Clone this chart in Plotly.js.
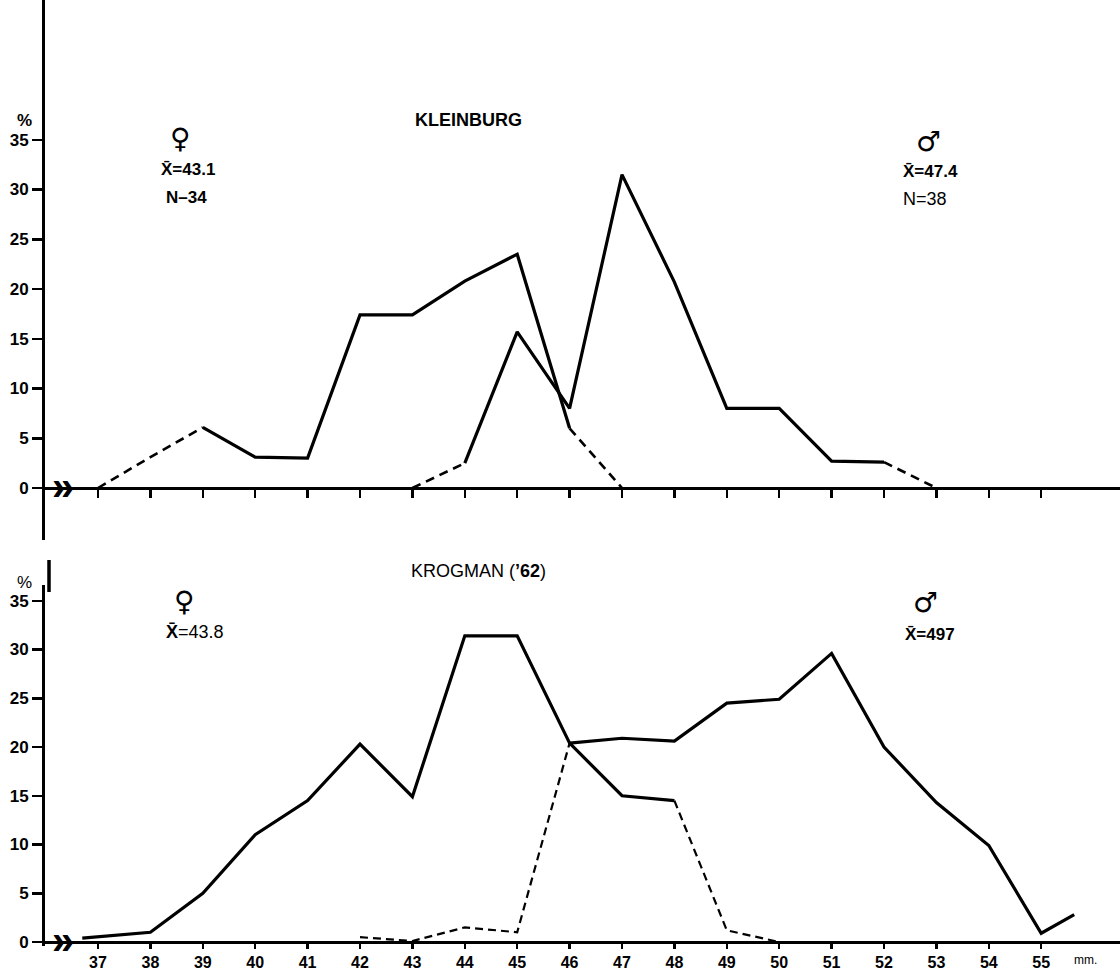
<!DOCTYPE html>
<html><head><meta charset="utf-8">
<script src="https://cdn.plot.ly/plotly-3.0.1.min.js"></script>
<style>html,body{margin:0;padding:0;background:#fff}</style>
</head><body>
<div id="chart" style="width:1120px;height:970px"></div>
<script>
// ---- data ----
const mmTicks = [37,38,39,40,41,42,43,44,45,46,47,48,49,50,51,52,53,54,55];
const pctTicks = [0,5,10,15,20,25,30,35];

// KLEINBURG, females
const kleinFemaleX = [37,38,39,40,41,42,43,44,45,46,47];
const kleinFemaleY = [0,3.1,6.1,3.1,3.0,17.4,17.4,20.8,23.5,6.0,0];
const kleinFemaleDashed = [true,true,false,false,false,false,false,false,false,true];
// KLEINBURG, males
const kleinMaleX = [43,44,45,46,47,48,49,50,51,52,53];
const kleinMaleY = [0,2.5,15.7,8.0,31.5,20.7,8.0,8.0,2.7,2.6,0];
const kleinMaleDashed = [true,false,false,false,false,false,false,false,false,true];
// KROGMAN ('62), females
const krogFemaleX = [36.7,38,39,40,41,42,43,44,45,46,47,48,49,50];
const krogFemaleY = [0.4,1.0,5.0,11.0,14.5,20.3,14.9,31.4,31.4,20.4,15.0,14.5,1.2,0];
const krogFemaleDashed = [false,false,false,false,false,false,false,false,false,false,false,true,true];
// KROGMAN ('62), males
const krogMaleX = [42,43,44,45,46,47,48,49,50,51,52,53,54,55,55.63];
const krogMaleY = [0.5,0.1,1.5,1.0,20.4,20.9,20.6,24.5,24.9,29.6,20.0,14.3,9.9,0.9,2.8];
const krogMaleDashed = [true,true,true,true,false,false,false,false,false,false,false,false,false,false];

// ---- helpers ----
const W = 1120, H = 970, ML = 45;
const px2x = p => (p - ML) / (W - ML);
const px2y = p => 1 - p / H;

function segTraces(xs, ys, dashed, xa, ya, solidW, dashW, dashPat) {
  const out = [];
  let i = 0;
  while (i < xs.length - 1) {
    const d = dashed[i];
    let j = i;
    while (j < xs.length - 1 && dashed[j] === d) j++;
    out.push({
      type: 'scatter', mode: 'lines',
      x: xs.slice(i, j + 1), y: ys.slice(i, j + 1),
      xaxis: xa, yaxis: ya, hoverinfo: 'skip', cliponaxis: false,
      line: {color: '#000', width: d ? dashW : solidW, dash: d ? dashPat : 'solid'}
    });
    i = j;
  }
  return out;
}

const traces = [].concat(
  segTraces(kleinFemaleX, kleinFemaleY, kleinFemaleDashed, 'x', 'y', 3.2, 2.6, '9px,6px'),
  segTraces(kleinMaleX, kleinMaleY, kleinMaleDashed, 'x', 'y', 3.2, 2.6, '9px,6px'),
  segTraces(krogFemaleX, krogFemaleY, krogFemaleDashed, 'x2', 'y2', 3.2, 2.2, '8px,5px'),
  segTraces(krogMaleX, krogMaleY, krogMaleDashed, 'x2', 'y2', 3.2, 2.2, '8px,5px')
);

const FONT = 'Liberation Sans, Arial, sans-serif';
const SYM = 'DejaVu Sans, sans-serif';
const topZero = 488, topScale = 9.95;
const botZero = 942, botScale = 9.75;
const xr = [37 - (98 - ML) / 52.4, 37 + (W - 98) / 52.4];

const baseX = {
  range: xr, domain: [0, 1], showline: true, linewidth: 3, linecolor: '#000',
  ticks: 'outside', ticklen: 8, tickwidth: 2.5, tickcolor: '#000',
  tickmode: 'array', tickvals: mmTicks, showgrid: false, zeroline: false, fixedrange: true
};
const baseY = {
  showline: true, linewidth: 3, linecolor: '#000',
  ticks: 'outside', ticklen: 10, tickwidth: 2.5, tickcolor: '#000',
  tickmode: 'array', tickvals: pctTicks, showgrid: false, zeroline: false, fixedrange: true,
  tickfont: {family: FONT, size: 17, color: '#000', weight: 'bold'}
};

function ann(text, xpx, ypx, size, opts) {
  return Object.assign({
    text: text, xref: 'paper', yref: 'paper', x: px2x(xpx), y: px2y(ypx),
    xanchor: 'center', yanchor: 'middle', showarrow: false,
    font: {family: FONT, size: size, color: '#000'}
  }, opts || {});
}
const symFont = {family: SYM, size: 28, color: '#000'};

const layout = {
  width: W, height: H, margin: {l: ML, r: 0, t: 0, b: 0},
  paper_bgcolor: '#fff', plot_bgcolor: 'rgba(0,0,0,0)', showlegend: false,
  xaxis: Object.assign({}, baseX, {anchor: 'free', position: px2y(topZero), showticklabels: false}),
  yaxis: Object.assign({}, baseY, {anchor: 'x', domain: [px2y(540), 1],
    range: [-(540 - topZero) / topScale, topZero / topScale]}),
  xaxis2: Object.assign({}, baseX, {anchor: 'free', position: px2y(botZero), ticklen: 5,
    tickfont: {family: FONT, size: 16, color: '#000', weight: 'bold'}}),
  yaxis2: Object.assign({}, baseY, {anchor: 'x2', domain: [px2y(946), px2y(585)],
    range: [-(946 - botZero) / botScale, (botZero - 585) / botScale]}),
  shapes: [
    {type: 'line', xref: 'paper', yref: 'paper', x0: px2x(49), x1: px2x(49), y0: px2y(560), y1: px2y(592),
     line: {color: '#000', width: 3.5}}
  ],
  annotations: [
    ann('<b>%</b>', 24, 120, 17),
    ann('%', 24, 582, 17),
    ann('<b>KLEINBURG</b>', 468, 120, 18),
    ann("KROGMAN (<b>’62</b>)", 478, 571, 18),
    ann('<b>♀</b>', 180, 139, 28, {font: symFont}),
    ann('<b>X̄=43.1</b>', 188, 169, 17),
    ann('<b>N–34</b>', 186, 198, 17),
    ann('<b>♂</b>', 928, 141, 28, {font: symFont}),
    ann('<b>X̄=47.4</b>', 930, 171, 17),
    ann('N=38', 925, 199, 18),
    ann('<b>♀</b>', 184, 601, 28, {font: symFont}),
    ann('<b>X̄</b>=43.8', 195, 632, 18),
    ann('<b>♂</b>', 925, 602, 28, {font: symFont}),
    ann('<b>X̄=497</b>', 930, 634, 17),
    {text: '<b>»</b>', xref: 'x', yref: 'y', x: 36.33, y: 0, showarrow: false, yshift: 2,
     xanchor: 'center', yanchor: 'middle', font: {family: FONT, size: 40, color: '#000'}},
    {text: '<b>»</b>', xref: 'x2', yref: 'y2', x: 36.33, y: 0, showarrow: false, yshift: 2,
     xanchor: 'center', yanchor: 'middle', font: {family: FONT, size: 40, color: '#000'}},
    {text: 'mm.', xref: 'x2', yref: 'y2', x: 55.85, y: 0, showarrow: false,
     xanchor: 'center', yanchor: 'top', yshift: -9, font: {family: FONT, size: 12, color: '#000'}}
  ]
};

Plotly.newPlot('chart', traces, layout, {staticPlot: true, displayModeBar: false});
</script>
</body></html>
